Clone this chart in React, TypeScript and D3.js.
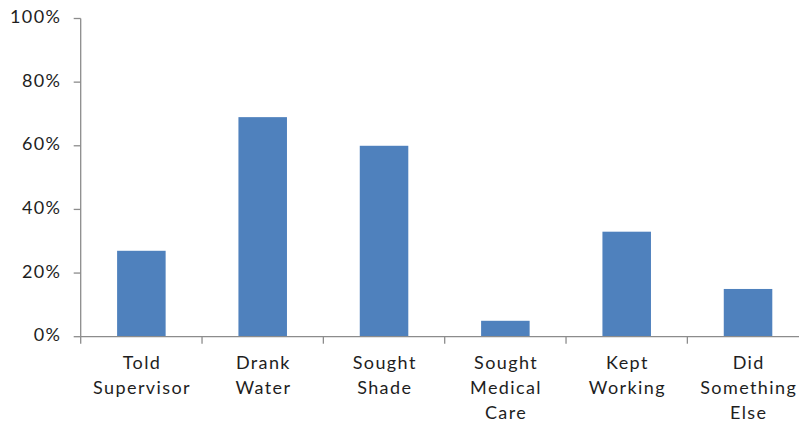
import React from "react";
import * as d3 from "d3";

// Share of respondents taking each action
const categories: string[][] = [
  ["Told", "Supervisor"],
  ["Drank", "Water"],
  ["Sought", "Shade"],
  ["Sought", "Medical", "Care"],
  ["Kept", "Working"],
  ["Did", "Something", "Else"],
];
const values: number[] = [27, 69, 60, 5, 33, 15];
const yTicks: number[] = [0, 20, 40, 60, 80, 100];

const W = 799;
const H = 423;
const left = 80.7;
const right = 808.7;
const top = 18.5;
const bottom = 336.7;

export default function App() {
  const keys = categories.map((c) => c.join(" "));
  const x = d3
    .scaleBand<string>()
    .domain(keys)
    .range([left, right])
    .paddingInner(0.6)
    .paddingOuter(0.3);
  const y = d3.scaleLinear().domain([0, 100]).range([bottom, top]);
  const step = x.step();
  const axisColor = "#8c8c8c";
  const font = "Lato, 'Open Sans', sans-serif";
  const fontSize = 18;
  const spacing = 1.4;

  return (
    <svg
      width={W}
      height={H}
      style={{ position: "absolute", left: 0, top: 0, background: "#fff" }}
    >
      {/* bars */}
      {values.map((v, i) => (
        <rect
          key={keys[i]}
          x={x(keys[i])}
          y={y(v)}
          width={x.bandwidth()}
          height={y(0) - y(v)}
          fill="#4f81bd"
        />
      ))}

      {/* y axis */}
      <line x1={left} x2={left} y1={top} y2={bottom} stroke={axisColor} strokeWidth={1.3} />
      {yTicks.map((t) => (
        <g key={t}>
          <line x1={left - 7} x2={left} y1={y(t)} y2={y(t)} stroke={axisColor} strokeWidth={1.3} />
          <text
            x={60 + spacing}
            y={y(t)}
            textAnchor="end"
            dominantBaseline="middle"
            fontFamily={font}
            fontSize={fontSize}
            letterSpacing={spacing}
            fill="#1e1e1e"
          >
            {t}%
          </text>
        </g>
      ))}

      {/* x axis */}
      <line x1={left} x2={right} y1={bottom} y2={bottom} stroke={axisColor} strokeWidth={1.3} />
      {d3.range(categories.length + 1).map((i) => (
        <line
          key={i}
          x1={left + i * step}
          x2={left + i * step}
          y1={bottom}
          y2={bottom + 7}
          stroke={axisColor}
          strokeWidth={1.3}
        />
      ))}
      {categories.map((lines, i) => (
        <text
          key={keys[i]}
          textAnchor="middle"
          fontFamily={font}
          fontSize={fontSize}
          letterSpacing={spacing}
          fill="#1e1e1e"
        >
          {lines.map((ln, j) => (
            <tspan
              key={j}
              x={(x(keys[i]) as number) + x.bandwidth() / 2 + spacing / 2}
              y={369 + j * 25}
            >
              {ln}
            </tspan>
          ))}
        </text>
      ))}
    </svg>
  );
}
